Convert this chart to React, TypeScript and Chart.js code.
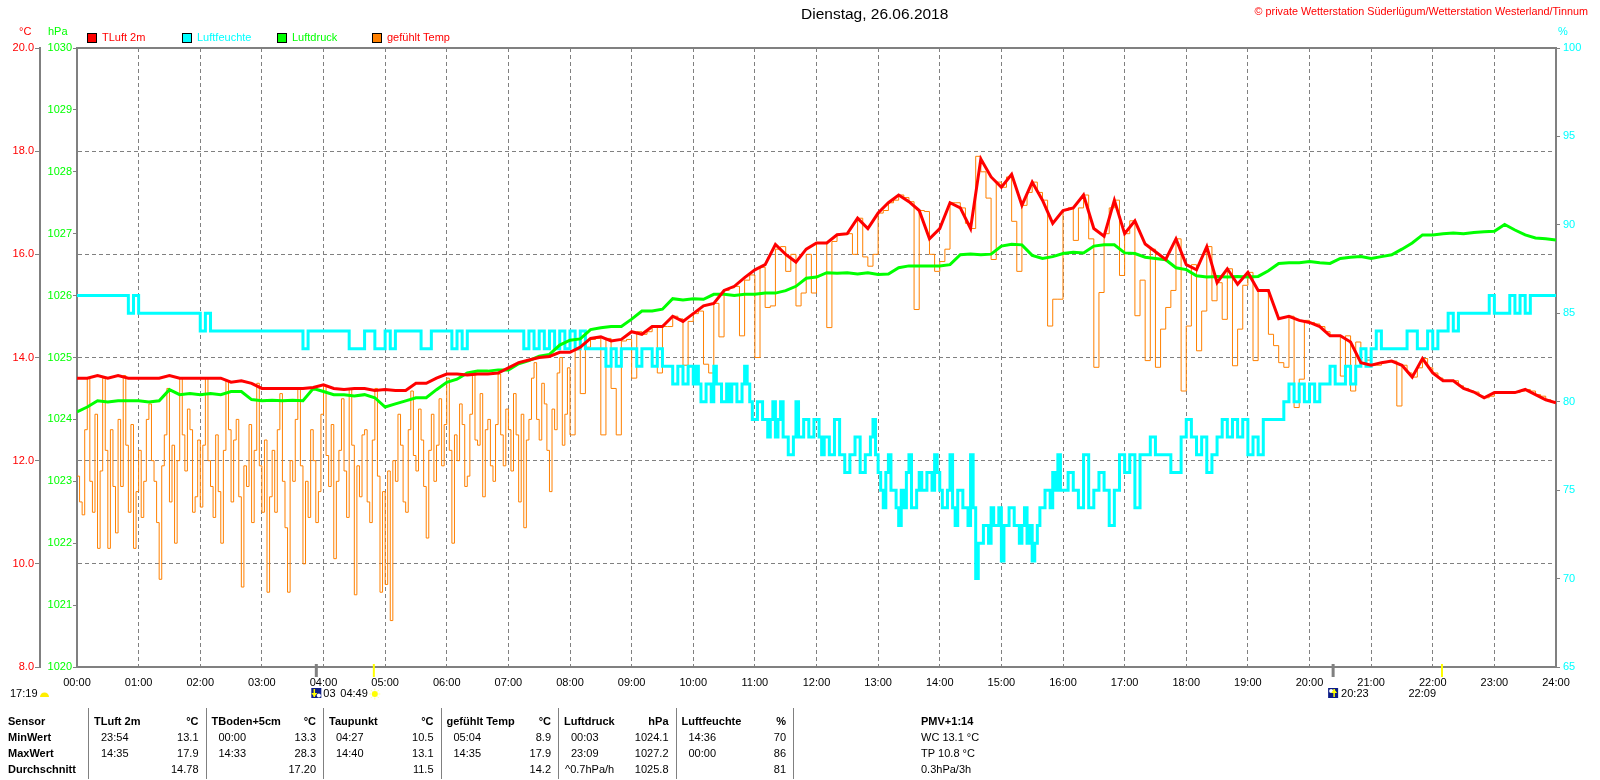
import { useEffect, useRef } from 'react';
import { Chart, registerables } from 'chart.js';

Chart.register(...registerables);

// ---------- texts ----------
const TITLE = 'Dienstag, 26.06.2018';
const COPYRIGHT = '© private Wetterstation Süderlügum/Wetterstation Westerland/Tinnum';
const SERIES_NAMES = ['TLuft 2m', 'Luftfeuchte', 'Luftdruck', 'gefühlt Temp'];
const SERIES_COLORS = ['#ff0000', '#00ffff', '#00ff00', '#ff8000'];
const LEGEND_TEXT_COLORS = ['#ff0000', '#00ffff', '#00ff00', '#ff0000'];

// ---------- axis ranges / ticks ----------
const TEMP_RANGE = [8, 20];
const TEMP_STEP = 2;
const PRESSURE_RANGE = [1020, 1030];
const PRESSURE_STEP = 1;
const HUMIDITY_RANGE = [65, 100];
const HUMIDITY_STEP = 5;
const DAY_MINUTES = 1440;
const HOUR_STEP = 60;

// ---------- series ----------
// TLuft 2m, every 10 min from 00:00
const TEMP_INTERVAL = 10;
const TEMP = [
  13.6, 13.6, 13.65, 13.6, 13.65, 13.6,
  13.6, 13.6, 13.6, 13.65, 13.6, 13.6,
  13.6, 13.6, 13.6, 13.52, 13.55, 13.5,
  13.4, 13.4, 13.4, 13.4, 13.4, 13.42,
  13.47, 13.4, 13.38, 13.4, 13.4, 13.36,
  13.38, 13.36, 13.36, 13.5, 13.5, 13.6,
  13.68, 13.68, 13.66, 13.68, 13.68, 13.7,
  13.8, 13.9, 13.95, 14.0, 14.02, 14.1,
  14.1, 14.2, 14.37, 14.4, 14.32, 14.35,
  14.5, 14.45, 14.6, 14.6, 14.8, 14.7,
  14.85, 15.0, 15.05, 15.3, 15.38, 15.55,
  15.7, 15.8, 16.19, 16.0, 15.85, 16.1,
  16.22, 16.22, 16.38, 16.4, 16.7, 16.5,
  16.8, 17.0, 17.15, 17.02, 16.85, 16.3,
  16.5, 17.0, 16.9, 16.5, 17.85, 17.5,
  17.3, 17.55, 16.95, 17.4, 17.05, 16.6,
  16.85, 16.9, 17.15, 16.5, 16.35, 17.05,
  16.4, 16.65, 16.2, 16.05, 15.9, 16.3,
  15.8, 15.7, 16.15, 15.45, 15.72, 15.42,
  15.65, 15.3, 15.3, 14.75, 14.8, 14.72,
  14.68, 14.6, 14.42, 14.42, 14.3, 13.9,
  13.85, 13.9, 13.93, 13.85, 13.62, 13.98,
  13.7, 13.55, 13.55, 13.4, 13.33, 13.22,
  13.32, 13.32, 13.32, 13.38, 13.28, 13.18,
  13.12,
];

// Luftdruck, every 10 min from 00:00
const PRESSURE_INTERVAL = 10;
const PRESSURE = [
  1024.12, 1024.2, 1024.3, 1024.28, 1024.3, 1024.3,
  1024.3, 1024.28, 1024.3, 1024.48, 1024.4, 1024.42,
  1024.4, 1024.42, 1024.4, 1024.45, 1024.45, 1024.32,
  1024.3, 1024.31, 1024.3, 1024.31, 1024.3, 1024.5,
  1024.45, 1024.4, 1024.4, 1024.38, 1024.4, 1024.35,
  1024.2, 1024.25, 1024.3, 1024.35, 1024.35, 1024.48,
  1024.6, 1024.65, 1024.75, 1024.78, 1024.78, 1024.8,
  1024.8, 1024.9, 1024.95, 1025.02, 1025.05, 1025.2,
  1025.28, 1025.3, 1025.45, 1025.48, 1025.5, 1025.5,
  1025.62, 1025.75, 1025.75, 1025.78, 1025.95, 1025.93,
  1025.95, 1025.94, 1026.02, 1026.02, 1026.0, 1026.02,
  1026.02, 1026.04, 1026.04, 1026.08, 1026.15, 1026.28,
  1026.3, 1026.37, 1026.36, 1026.37, 1026.35, 1026.37,
  1026.34, 1026.35, 1026.45, 1026.48, 1026.48, 1026.48,
  1026.48, 1026.5, 1026.66, 1026.67, 1026.66, 1026.67,
  1026.8, 1026.83, 1026.82, 1026.65, 1026.6, 1026.63,
  1026.68, 1026.7, 1026.69, 1026.8, 1026.82, 1026.82,
  1026.69, 1026.68, 1026.62, 1026.6, 1026.58, 1026.45,
  1026.42, 1026.32, 1026.3, 1026.31, 1026.3, 1026.31,
  1026.3, 1026.31, 1026.4, 1026.52, 1026.53, 1026.53,
  1026.55, 1026.53, 1026.52, 1026.6, 1026.62, 1026.63,
  1026.6, 1026.63, 1026.66, 1026.75, 1026.85, 1026.98,
  1026.98, 1027.0, 1027.01, 1027.0, 1027.02, 1027.03,
  1027.04, 1027.15, 1027.06, 1026.98, 1026.93, 1026.92,
  1026.9,
];

// Luftfeuchte, 00:00 - 09:55 every 5 min
const HUMIDITY_A_INTERVAL = 5;
const HUMIDITY_A = [
  86, 86, 86, 86, 86, 86, 86, 86, 86, 86, 85, 86,
  85, 85, 85, 85, 85, 85, 85, 85, 85, 85, 85, 85,
  84, 85, 84, 84, 84, 84, 84, 84, 84, 84, 84, 84,
  84, 84, 84, 84, 84, 84, 84, 84, 83, 84, 84, 84,
  84, 84, 84, 84, 84, 83, 83, 83, 84, 84, 83, 83,
  84, 83, 84, 84, 84, 84, 84, 83, 83, 84, 84, 84,
  84, 83, 84, 83, 84, 84, 84, 84, 84, 84, 84, 84,
  84, 84, 84, 83, 84, 83, 84, 83, 84, 83, 84, 83,
  84, 83, 84, 83, 83, 83, 83, 82, 83, 82, 83, 83,
  83, 82, 83, 83, 82, 83, 82, 82, 81, 82, 81, 82,
];
// Luftfeuchte, 10:00 - 15:57.5 every 2.5 min
const HUMIDITY_B_START = 600;
const HUMIDITY_B_INTERVAL = 2.5;
const HUMIDITY_B = [
  81, 82, 81, 80, 80, 81, 81, 80, 82, 81, 81, 80, 80, 81, 80, 81, 81, 80, 80, 81, 82, 81, 80, 79,
  79, 80, 80, 79, 79, 78, 79, 80, 78, 79, 80, 78, 78, 77, 77, 78, 80, 78, 78, 79, 79, 78, 78, 79,
  79, 78, 77, 78, 78, 77, 77, 79, 79, 77, 77, 76, 76, 77, 77, 78, 78, 76, 76, 77, 77, 78, 79, 77,
  76, 75, 74, 76, 77, 75, 75, 74, 73, 75, 74, 76, 77, 74, 74, 75, 76, 75, 75, 76, 76, 75, 77, 76,
  75, 74, 74, 75, 77, 74, 73, 75, 75, 74, 74, 73, 77, 74, 70, 72, 72, 73, 73, 72, 74, 73, 73, 74,
  71, 73, 73, 74, 74, 73, 73, 72, 73, 74, 72, 73, 71, 72, 73, 74, 74, 75, 75, 74, 76, 75, 77, 75,
];
// Luftfeuchte, 16:00 - 24:00 every 5 min
const HUMIDITY_C_START = 960;
const HUMIDITY_C_INTERVAL = 5;
const HUMIDITY_C = [
  75, 76, 75, 74, 77, 74, 75, 76, 75, 73, 75, 77,
  76, 77, 74, 77, 77, 78, 77, 77, 77, 76, 76, 78,
  79, 78, 77, 78, 76, 77, 78, 79, 78, 79, 78, 79,
  77, 78, 77, 79, 79, 79, 79, 80, 81, 80, 81, 80,
  81, 80, 81, 81, 82, 81, 81, 82, 81, 82, 83, 82,
  83, 84, 83, 83, 83, 83, 83, 84, 84, 83, 83, 84,
  83, 84, 84, 85, 84, 85, 85, 85, 85, 85, 85, 86,
  85, 85, 85, 86, 85, 86, 85, 86, 86, 86, 86, 86,
  86,
];

// gefühlt Temp, 00:00 - 07:57.5 every 2.5 min
const FEELS_EARLY_INTERVAL = 2.5;
const FEELS_EARLY = [
  11.7, 11.2, 10.95, 12.6, 13.6, 11.6, 11.0, 12.9, 10.3, 11.8, 13.6, 12.2, 10.3, 12.6, 11.5, 10.6, 12.8, 11.5, 13.65, 12.3, 11.0, 12.7, 10.3, 11.4,
  12.2, 10.9, 11.6, 12.8, 13.1, 12.0, 11.6, 10.8, 9.7, 11.9, 12.5, 13.4, 11.2, 12.3, 10.4, 12.0, 13.6, 12.5, 11.8, 13.0, 12.6, 11.0, 11.3, 12.4,
  11.1, 12.3, 13.6, 12.0, 11.5, 10.9, 12.5, 11.4, 10.4, 12.2, 13.55, 12.6, 11.2, 12.4, 12.8, 11.3, 9.55, 11.9, 11.5, 12.7, 10.8, 12.2, 13.5, 11.9,
  11.0, 12.4, 9.45, 11.3, 12.2, 11.0, 12.6, 13.3, 11.6, 10.7, 9.45, 12.0, 11.6, 12.8, 13.4, 11.9, 10.0, 11.6, 10.9, 12.6, 12.0, 10.8, 11.4, 12.9,
  13.45, 12.1, 11.5, 12.7, 10.1, 11.6, 12.2, 13.2, 11.8, 10.9, 13.4, 12.3, 9.4, 11.9, 11.3, 12.5, 12.6, 11.2, 10.8, 12.4, 13.4, 11.7, 9.45, 11.4,
  9.6, 11.8, 8.9, 12.0, 11.6, 12.9, 12.3, 11.2, 11.0, 12.6, 13.35, 12.1, 11.8, 13.0, 12.4, 11.5, 10.5, 12.2, 12.9, 11.6, 12.3, 13.2, 11.9, 12.7,
  13.6, 12.2, 10.4, 12.5, 12.0, 13.1, 12.7, 11.5, 11.7, 12.9, 13.68, 12.4, 12.3, 13.3, 11.3, 12.6, 12.8, 11.9, 11.6, 12.7, 13.68, 12.5, 11.9, 13.0,
  12.6, 11.8, 13.3, 12.5, 11.2, 12.9, 10.7, 12.4, 12.8, 13.6, 13.9, 12.8, 12.4, 13.5, 13.1, 12.2, 11.4, 13.0, 12.6, 13.7, 14.0, 12.3, 12.9, 13.8,
];
// gefühlt Temp, 08:00 - 24:00 every 5 min
const FEELS_LATE_START = 480;
const FEELS_LATE_INTERVAL = 5;
const FEELS_LATE = [
  12.5, 14.15, 13.3, 14.2, 14.35, 14.37, 12.5, 14.37, 13.4, 12.5, 14.32, 14.35,
  13.6, 14.5, 14.45, 14.5, 14.6, 13.7, 14.6, 14.6, 14.8, 14.75, 13.85, 14.7,
  14.85, 14.9, 13.87, 13.7, 15.05, 14.4, 15.3, 15.35, 15.38, 14.42, 15.5, 15.6,
  14.0, 15.75, 14.97, 15.0, 16.1, 16.15, 15.67, 16.0, 15.0, 15.25, 16.0, 15.25,
  16.22, 16.22, 14.58, 16.25, 16.38, 16.38, 16.4, 16.0, 16.7, 15.95, 15.77, 16.0,
  16.8, 16.85, 17.0, 17.05, 17.15, 17.1, 17.02, 14.93, 16.85, 16.83, 16.0, 15.67,
  15.86, 16.1, 17.0, 17.0, 16.9, 16.6, 16.5, 17.9, 17.6, 17.09, 15.9, 17.4,
  17.3, 17.5, 16.64, 15.67, 16.95, 17.2, 17.4, 17.2, 17.05, 14.61, 15.13, 15.13,
  16.85, 16.9, 16.27, 16.9, 17.15, 16.3, 13.81, 15.26, 16.4, 16.9, 17.05, 15.59,
  16.4, 16.65, 14.81, 15.5, 13.94, 16.1, 13.81, 14.55, 14.97, 15.3, 16.3, 13.35,
  14.61, 15.8, 14.13, 14.9, 16.15, 15.1, 15.45, 14.74, 15.72, 13.84, 14.55, 15.4,
  15.65, 13.94, 15.3, 15.3, 14.45, 14.23, 13.9, 13.81, 14.8, 13.03, 13.58, 14.72,
  14.68, 14.65, 14.6, 14.5, 14.42, 14.42, 13.64, 14.42, 13.35, 14.3, 13.9, 13.95,
  13.85, 13.85, 13.9, 13.92, 13.93, 13.06, 13.85, 13.7, 13.62, 13.8, 13.98, 13.8,
  13.7, 13.6, 13.55, 13.55, 13.55, 13.45, 13.4, 13.35, 13.33, 13.25, 13.22, 13.25,
  13.32, 13.32, 13.32, 13.32, 13.32, 13.35, 13.38, 13.35, 13.28, 13.25, 13.18, 13.13,
  13.12,
];

// ---------- sun / moon events (minutes of day) ----------
const ASTRO_MINUTES = [233, 289, 1223, 1329];
const ASTRO_KINDS = ['moonset', 'sunrise', 'moonrise', 'sunset'];
const ASTRO_LABELS = ['03', '04:49', '20:23', '22:09'];
const DAY_LENGTH = '17:19';

// ---------- statistics table ----------
const ROW_LABELS = ['Sensor', 'MinWert', 'MaxWert', 'Durchschnitt'];
const TABLE_SENSORS = ['TLuft 2m', 'TBoden+5cm', 'Taupunkt', 'gefühlt Temp', 'Luftdruck', 'Luftfeuchte'];
const TABLE_UNITS = ['°C', '°C', '°C', '°C', 'hPa', '%'];
const MIN_TIMES = ['23:54', '00:00', '04:27', '05:04', '00:03', '14:36'];
const MIN_VALUES = ['13.1', '13.3', '10.5', '8.9', '1024.1', '70'];
const MAX_TIMES = ['14:35', '14:33', '14:40', '14:35', '23:09', '00:00'];
const MAX_VALUES = ['17.9', '28.3', '13.1', '17.9', '1027.2', '86'];
const AVG_NOTES = ['', '', '', '', '^0.7hPa/h', ''];
const AVG_VALUES = ['14.78', '17.20', '11.5', '14.2', '1025.8', '81'];
const PMV_LINES = ['PMV+1:14', 'WC 13.1 °C', 'TP 10.8 °C', '0.3hPa/3h'];

// ---------- styling ----------
const FONT = "'Liberation Sans', Arial, sans-serif";
const FRAME = '#808080';
const GRID = '#808080';

const pad2 = (n: number) => String(Math.round(n)).padStart(2, '0');
const toPoints = (values: number[], interval: number, start = 0) =>
  values.map((y, i) => ({ x: start + i * interval, y }));

function text(ctx: any, s: string, x: number, y: number, color: string, size = 11, bold = false, align = 'left') {
  ctx.font = `${bold ? 'bold ' : ''}${size}px ${FONT}`;
  ctx.fillStyle = color;
  ctx.textAlign = align;
  ctx.textBaseline = 'middle';
  ctx.fillText(s, x, y);
}

function moonIcon(ctx: any, x: number, y: number, rising: boolean) {
  ctx.fillStyle = '#0b1c86';
  ctx.fillRect(x, y, 10, 10);
  ctx.fillStyle = '#ffffff';
  ctx.beginPath();
  ctx.arc(rising ? x + 3 : x + 7.5, rising ? y + 3 : y + 7.5, 2, 0, Math.PI * 2);
  ctx.fill();
  ctx.strokeStyle = '#ffff00';
  ctx.fillStyle = '#ffff00';
  ctx.lineWidth = 1.5;
  const ax = rising ? x + 6 : x + 3;
  ctx.beginPath();
  ctx.moveTo(ax, y + 1);
  ctx.lineTo(ax, y + 9);
  ctx.stroke();
  ctx.beginPath();
  if (rising) {
    ctx.moveTo(ax - 3, y + 5); ctx.lineTo(ax + 3, y + 5); ctx.lineTo(ax, y + 1);
  } else {
    ctx.moveTo(ax - 3, y + 5); ctx.lineTo(ax + 3, y + 5); ctx.lineTo(ax, y + 9);
  }
  ctx.closePath();
  ctx.fill();
}

function sunIcon(ctx: any, cx: number, cy: number) {
  ctx.strokeStyle = '#ffff99';
  ctx.lineWidth = 1;
  for (let i = 0; i < 8; i++) {
    const a = (i * Math.PI) / 4;
    ctx.beginPath();
    ctx.moveTo(cx + Math.cos(a) * 3.5, cy + Math.sin(a) * 3.5);
    ctx.lineTo(cx + Math.cos(a) * 5.5, cy + Math.sin(a) * 5.5);
    ctx.stroke();
  }
  ctx.fillStyle = '#ffff00';
  ctx.beginPath();
  ctx.arc(cx, cy, 3, 0, Math.PI * 2);
  ctx.fill();
}

function halfSun(ctx: any, cx: number, cy: number) {
  ctx.fillStyle = '#ffee00';
  ctx.beginPath();
  ctx.arc(cx, cy, 4.5, Math.PI, 0);
  ctx.closePath();
  ctx.fill();
}

const decorPlugin = {
  id: 'decor',
  beforeDraw(chart: any) {
    const ctx = chart.ctx;
    ctx.save();
    ctx.fillStyle = '#ffffff';
    ctx.fillRect(0, 0, chart.width, chart.height);
    ctx.restore();
  },
  afterDraw(chart: any) {
    const ctx = chart.ctx;
    const area = chart.chartArea;
    const xs = chart.scales.x;
    ctx.save();

    // top frame
    ctx.strokeStyle = FRAME;
    ctx.lineWidth = 2;
    ctx.beginPath();
    ctx.moveTo(area.left - 1, area.top);
    ctx.lineTo(area.right + 1, area.top);
    ctx.stroke();

    // title + copyright
    text(ctx, TITLE, 801, 15, '#000000', 15.5);
    text(ctx, COPYRIGHT, 1588, 12, '#ff0000', 10.8, false, 'right');

    // axis units
    text(ctx, '°C', 19, 32, '#ff0000');
    text(ctx, 'hPa', 48, 32, '#00ff00');
    text(ctx, '%', 1558, 32, '#00ffff');

    // legend
    chart.data.datasets.forEach((ds: any, i: number) => {
      const bx = 87 + i * 95;
      ctx.fillStyle = ds.borderColor;
      ctx.fillRect(bx, 33, 10, 10);
      ctx.strokeStyle = '#000000';
      ctx.lineWidth = 1;
      ctx.strokeRect(bx + 0.5, 33.5, 9, 9);
      text(ctx, ds.label, bx + 15, 38, LEGEND_TEXT_COLORS[i]);
    });

    // sun / moon markers
    const rowY = 694;
    ASTRO_MINUTES.forEach((m, i) => {
      const mx = xs.getPixelForValue(m);
      const kind = ASTRO_KINDS[i];
      const isSun = kind === 'sunrise' || kind === 'sunset';
      ctx.fillStyle = isSun ? '#ffff00' : FRAME;
      ctx.fillRect(mx - (isSun ? 1 : 1.5), area.bottom - 3, isSun ? 2 : 3, 13);
      if (kind === 'moonset') {
        moonIcon(ctx, mx - 5, 688, false);
        text(ctx, ASTRO_LABELS[i], mx + 7, rowY, '#000000');
      } else if (kind === 'moonrise') {
        moonIcon(ctx, mx - 5, 688, true);
        text(ctx, ASTRO_LABELS[i], mx + 8, rowY, '#000000');
      } else if (kind === 'sunrise') {
        text(ctx, ASTRO_LABELS[i], mx - 6, rowY, '#000000', 11, false, 'right');
        sunIcon(ctx, mx + 1, rowY);
      } else {
        text(ctx, ASTRO_LABELS[i], mx - 6, rowY, '#000000', 11, false, 'right');
      }
    });
    text(ctx, DAY_LENGTH, 10, rowY, '#000000');
    halfSun(ctx, 44.5, 697);

    // statistics table
    const rowsY = [722, 738, 754, 770];
    const colW = 117.5;
    const col0 = 88;
    ROW_LABELS.forEach((r, j) => text(ctx, r, 8, rowsY[j], '#000000', 11, true));
    ctx.strokeStyle = FRAME;
    ctx.lineWidth = 1;
    for (let i = 0; i <= TABLE_SENSORS.length; i++) {
      const sx = Math.round(col0 + i * colW) + 0.5;
      ctx.beginPath();
      ctx.moveTo(sx, 708);
      ctx.lineTo(sx, 779);
      ctx.stroke();
    }
    TABLE_SENSORS.forEach((name, i) => {
      const s = col0 + i * colW;
      const e = s + colW;
      text(ctx, name, s + 6, rowsY[0], '#000000', 11, true);
      text(ctx, TABLE_UNITS[i], e - 7, rowsY[0], '#000000', 11, true, 'right');
      text(ctx, MIN_TIMES[i], s + 13, rowsY[1], '#000000');
      text(ctx, MIN_VALUES[i], e - 7, rowsY[1], '#000000', 11, false, 'right');
      text(ctx, MAX_TIMES[i], s + 13, rowsY[2], '#000000');
      text(ctx, MAX_VALUES[i], e - 7, rowsY[2], '#000000', 11, false, 'right');
      if (AVG_NOTES[i]) text(ctx, AVG_NOTES[i], s + 7, rowsY[3], '#000000');
      text(ctx, AVG_VALUES[i], e - 7, rowsY[3], '#000000', 11, false, 'right');
    });
    PMV_LINES.forEach((l, j) => text(ctx, l, 921, rowsY[j], '#000000', 11, j === 0));

    ctx.restore();
  },
};

export default function App() {
  const ref = useRef<HTMLCanvasElement>(null);

  useEffect(() => {
    document.body.style.margin = '0';
    const canvas = ref.current;
    if (!canvas) return;
    Chart.defaults.font.family = FONT;
    Chart.defaults.font.size = 11;

    const humidityPoints = [
      ...toPoints(HUMIDITY_A, HUMIDITY_A_INTERVAL),
      ...toPoints(HUMIDITY_B, HUMIDITY_B_INTERVAL, HUMIDITY_B_START),
      ...toPoints(HUMIDITY_C, HUMIDITY_C_INTERVAL, HUMIDITY_C_START),
    ];
    const feelsPoints = [
      ...toPoints(FEELS_EARLY, FEELS_EARLY_INTERVAL),
      ...toPoints(FEELS_LATE, FEELS_LATE_INTERVAL, FEELS_LATE_START),
    ];

    const chart = new Chart(canvas, {
      type: 'line',
      data: {
        datasets: [
          {
            label: SERIES_NAMES[0],
            data: toPoints(TEMP, TEMP_INTERVAL),
            yAxisID: 'yT',
            borderColor: SERIES_COLORS[0],
            backgroundColor: SERIES_COLORS[0],
            borderWidth: 3,
            pointRadius: 0,
            order: 0,
          },
          {
            label: SERIES_NAMES[1],
            data: humidityPoints,
            yAxisID: 'yH',
            borderColor: SERIES_COLORS[1],
            backgroundColor: SERIES_COLORS[1],
            borderWidth: 3,
            pointRadius: 0,
            stepped: true,
            order: 2,
          },
          {
            label: SERIES_NAMES[2],
            data: toPoints(PRESSURE, PRESSURE_INTERVAL),
            yAxisID: 'yP',
            borderColor: SERIES_COLORS[2],
            backgroundColor: SERIES_COLORS[2],
            borderWidth: 3,
            pointRadius: 0,
            order: 1,
          },
          {
            label: SERIES_NAMES[3],
            data: feelsPoints,
            yAxisID: 'yT',
            borderColor: SERIES_COLORS[3],
            backgroundColor: SERIES_COLORS[3],
            borderWidth: 1,
            pointRadius: 0,
            stepped: true,
            order: 3,
          },
        ],
      },
      options: {
        responsive: false,
        animation: false,
        events: [],
        layout: { padding: { top: 48, left: 0, right: 0, bottom: 0 } },
        plugins: {
          legend: { display: false },
          tooltip: { enabled: false },
          title: { display: false },
        },
        scales: {
          x: {
            type: 'linear',
            position: 'bottom',
            min: 0,
            max: DAY_MINUTES,
            ticks: {
              stepSize: HOUR_STEP,
              autoSkip: false,
              maxRotation: 0,
              padding: 9,
              color: '#000000',
              font: { size: 11 },
              callback: (v: any) => `${pad2(Number(v) / 60)}:00`,
            },
            grid: { color: GRID, lineWidth: 1, drawTicks: false },
            border: { display: true, color: FRAME, width: 2, dash: [4, 3] },
            afterFit: (s: any) => { s.height = 113; },
          },
          yT: {
            type: 'linear',
            position: 'left',
            weight: 2,
            min: TEMP_RANGE[0],
            max: TEMP_RANGE[1],
            ticks: {
              stepSize: TEMP_STEP,
              padding: 1,
              color: '#ff0000',
              font: { size: 11 },
              callback: (v: any) => Number(v).toFixed(1),
            },
            grid: { color: GRID, lineWidth: 1, drawTicks: true, tickLength: 5, tickColor: FRAME, tickWidth: 1 },
            border: { display: true, color: FRAME, width: 2, dash: [4, 3] },
            afterFit: (s: any) => { s.width = 40; },
          },
          yP: {
            type: 'linear',
            position: 'left',
            weight: 1,
            min: PRESSURE_RANGE[0],
            max: PRESSURE_RANGE[1],
            ticks: {
              stepSize: PRESSURE_STEP,
              padding: 1,
              color: '#00ff00',
              font: { size: 11 },
              callback: (v: any) => String(v),
            },
            grid: { drawOnChartArea: false, drawTicks: true, tickLength: 4, tickColor: FRAME, tickWidth: 1 },
            border: { display: true, color: FRAME, width: 2 },
            afterFit: (s: any) => { s.width = 37; },
          },
          yH: {
            type: 'linear',
            position: 'right',
            min: HUMIDITY_RANGE[0],
            max: HUMIDITY_RANGE[1],
            ticks: {
              stepSize: HUMIDITY_STEP,
              padding: 3,
              color: '#00ffff',
              font: { size: 11 },
              callback: (v: any) => String(v),
            },
            grid: { drawOnChartArea: false, drawTicks: true, tickLength: 4, tickColor: FRAME, tickWidth: 1 },
            border: { display: true, color: FRAME, width: 2 },
            afterFit: (s: any) => { s.width = 44; },
          },
        },
      },
      plugins: [decorPlugin],
    } as any);

    return () => chart.destroy();
  }, []);

  return (
    <div style={{ position: 'absolute', left: 0, top: 0, width: 1600, height: 780, overflow: 'hidden', background: '#ffffff' }}>
      <canvas ref={ref} width={1600} height={780} style={{ display: 'block', width: 1600, height: 780 }} />
    </div>
  );
}
